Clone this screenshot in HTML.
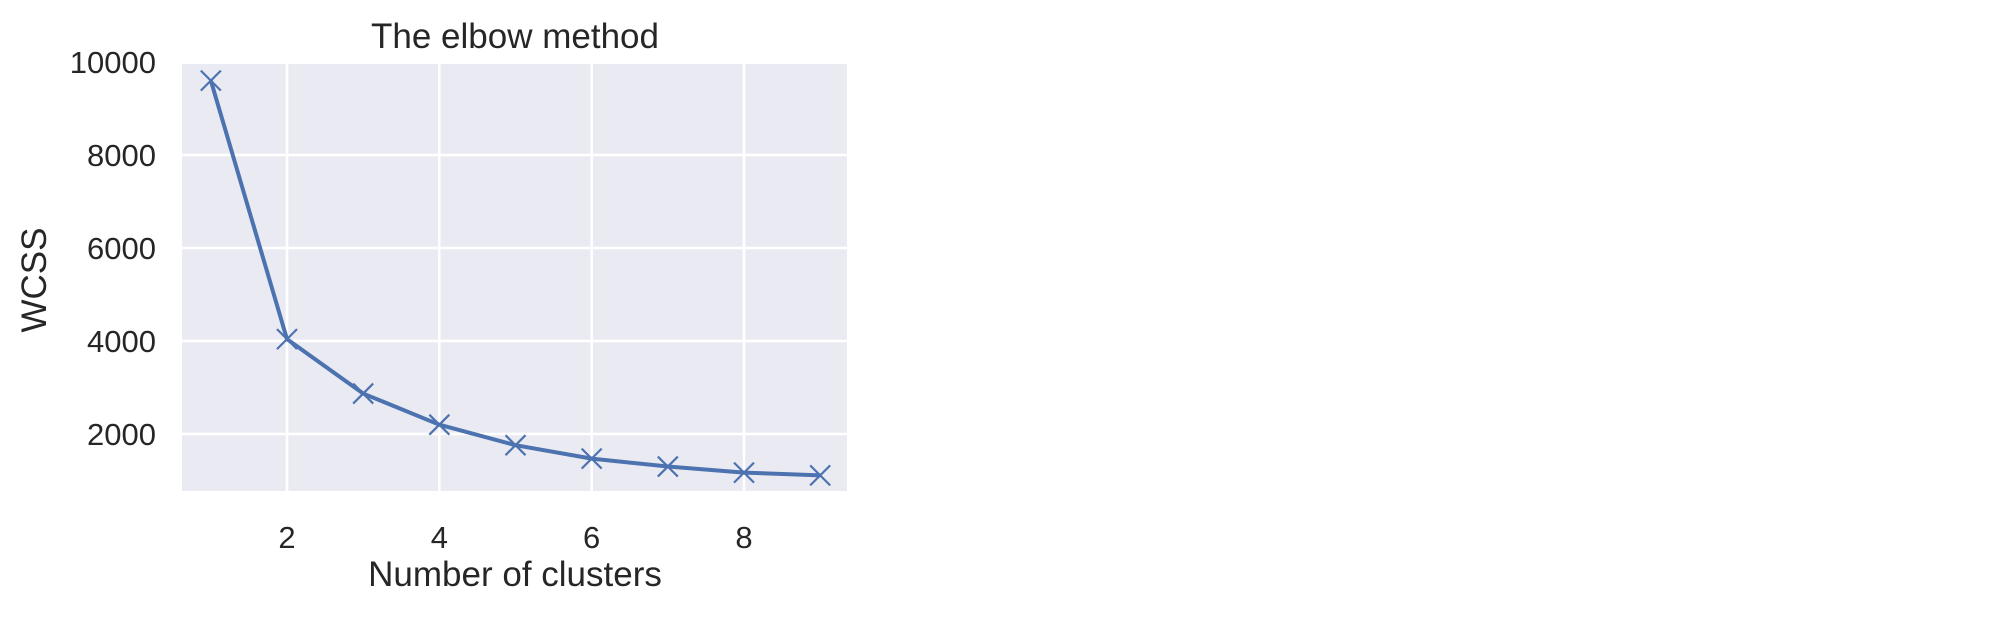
<!DOCTYPE html>
<html><head><meta charset="utf-8"><style>
body{margin:0;background:#fff;}
svg{display:block;font-family:"Liberation Sans",sans-serif;}
</style></head><body>
<svg width="1998" height="624">
<g id="plot"></g>
</svg>
<script>
const xValues=[1,2,3,4,5,6,7,8,9];
const wcss=[9600,4040,2870,2200,1760,1470,1300,1170,1110];
const xTicks=[2,4,6,8];
const yTicks=[2000,4000,6000,8000,10000];
const L=182,R=847,T=64,B=491;
const xs=v=>287+(v-2)*(744-287)/6;
const ys=v=>527-v*(527-155)/8000;
const NS='http://www.w3.org/2000/svg';
const g=document.getElementById('plot');
function mk(t,a,p){const e=document.createElementNS(NS,t);for(const k in a)e.setAttribute(k,a[k]);(p||g).appendChild(e);return e;}
const bg=mk('rect',{x:L,y:T,width:R-L,height:B-T,fill:'#eaeaf2'});


xTicks.forEach(t=>{const x=xs(t);
const l=mk('line',{x1:x,x2:x,y1:T,y2:B,stroke:'#fff','stroke-width':2.5});


const tx=mk('text',{x:x,y:548,'font-size':31,fill:'#262626','text-anchor':'middle'});tx.textContent=t;

});
yTicks.forEach(t=>{const y=ys(t);
if(y>=T-3){const l=mk('line',{x1:L,x2:R,y1:y,y2:y,stroke:'#fff','stroke-width':2.5});

}
const tx=mk('text',{x:156,y:y+11,'font-size':31,fill:'#262626','text-anchor':'end'});tx.textContent=t;

});
const pts=xValues.map((v,i)=>xs(v)+','+ys(wcss[i])).join(' ');
const pl=mk('polyline',{points:pts,fill:'none',stroke:'#4c72b0','stroke-width':4,'stroke-linejoin':'round'});


xValues.forEach((v,i)=>{const x=xs(v),y=ys(wcss[i]),s=10;
const m=mk('path',{d:`M${x-s},${y-s}L${x+s},${y+s}M${x-s},${y+s}L${x+s},${y-s}`,stroke:'#4c72b0','stroke-width':2.2,fill:'none'});

});
</script>
<svg style="position:absolute;left:0;top:0" width="1998" height="624">
<text x="515" y="48" font-size="35" fill="#262626" text-anchor="middle" font-family="Liberation Sans">The elbow method</text>
<text x="515" y="586" font-size="35" fill="#262626" text-anchor="middle" font-family="Liberation Sans">Number of clusters</text>
<text x="0" y="0" font-size="35" fill="#262626" text-anchor="middle" font-family="Liberation Sans" transform="translate(46,280) rotate(-90)">WCSS</text>
</svg>
</body></html>
